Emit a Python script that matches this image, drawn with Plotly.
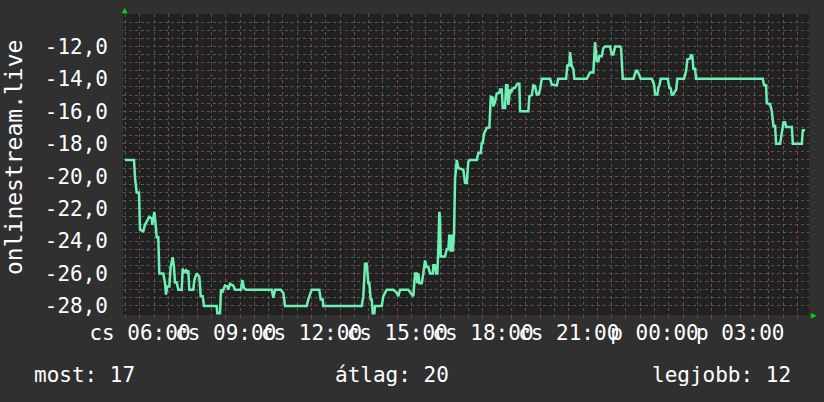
import plotly.graph_objects as go

# Time in hours since Thursday 00:00 (values > 24 are Friday)
hours = [5.476, 5.791, 5.826, 5.885, 5.966, 6.001, 6.116, 6.176, 6.326, 6.410, 6.431, 6.501, 6.550, 6.585, 6.641,
         6.676, 6.816, 6.876, 6.910, 6.956, 7.026, 7.075, 7.145, 7.190, 7.225, 7.285, 7.341, 7.460, 7.495, 7.540,
         7.610, 7.656, 7.691, 7.726, 7.866, 7.901, 7.985, 8.076, 8.125, 8.195, 8.240, 8.684, 8.705, 8.800, 8.835,
         8.894, 8.975, 9.055, 9.090, 9.150, 9.265, 9.325, 9.535, 9.580, 9.640, 9.710, 10.609, 10.665, 10.724, 10.924,
         11.015, 11.074, 11.833, 11.890, 12.008, 12.274, 12.323, 12.393, 12.414, 13.758, 13.814, 13.874, 13.933, 13.989, 14.024,
         14.073, 14.108, 14.143, 14.199, 14.223, 14.458, 14.514, 14.633, 14.864, 14.983, 15.039, 15.098, 15.388, 15.507, 15.563,
         15.623, 15.682, 15.703, 15.738, 15.773, 15.857, 15.913, 15.973, 16.032, 16.088, 16.148, 16.242, 16.263, 16.322, 16.357,
         16.403, 16.438, 16.473, 16.497, 16.522, 16.673, 16.732, 16.788, 16.823, 16.872, 16.907, 16.942, 16.988, 17.023, 17.082,
         17.138, 17.257, 17.313, 17.373, 17.432, 17.488, 17.548, 17.782, 17.838, 17.922, 17.957, 17.992, 18.038, 18.132, 18.223,
         18.273, 18.342, 18.363, 18.423, 18.482, 18.573, 18.597, 18.657, 18.692, 18.772, 18.807, 18.853, 18.888, 18.948, 19.007,
         19.042, 19.123, 19.203, 19.273, 19.297, 19.588, 19.623, 19.707, 19.763, 19.822, 19.882, 19.938, 19.997, 20.057, 20.347,
         20.407, 20.581, 20.637, 20.907, 20.952, 21.022, 21.046, 21.106, 21.162, 21.197, 21.631, 21.746, 21.862, 21.921, 21.981,
         22.037, 22.072, 22.155, 22.211, 22.271, 22.446, 22.505, 22.561, 22.621, 22.796, 22.831, 22.890, 23.261, 23.355, 23.401,
         23.471, 23.520, 23.905, 23.940, 23.986, 24.021, 24.101, 24.136, 24.171, 24.220, 24.465, 24.521, 24.570, 24.605, 24.661,
         24.721, 24.756, 24.801, 25.036, 25.106, 25.151, 25.246, 25.281, 25.326, 25.361, 25.421, 25.455, 27.789, 27.835, 27.905,
         27.929, 28.045, 28.105, 28.161, 28.220, 28.255, 28.395, 28.455, 28.511, 28.570, 28.605, 28.805, 28.840, 29.155, 29.190,
         29.270]

values = [-19.0, -19.0, -20.1, -21.0, -21.0, -23.3, -23.4, -23.0, -22.5, -22.6, -23.0, -22.2, -23.0, -23.76, -23.76,
          -26.0, -26.0, -26.6, -27.3, -26.8, -26.8, -25.57, -25.0, -25.6, -26.56, -26.56, -27.0, -27.0, -25.7, -25.9,
          -25.8, -26.0, -25.8, -27.0, -27.0, -26.4, -26.0, -26.2, -27.4, -27.4, -28.0, -28.0, -28.45, -28.45, -27.0,
          -27.1, -26.75, -26.8, -27.0, -26.64, -26.75, -27.0, -27.0, -26.4, -26.9, -27.0, -27.0, -27.5, -27.0, -27.0,
          -27.2, -28.0, -28.0, -27.6, -27.0, -27.0, -27.6, -27.6, -28.0, -28.0, -27.4, -25.4, -25.4, -26.6, -26.6,
          -27.6, -27.6, -28.45, -28.45, -28.0, -28.0, -27.4, -27.0, -27.0, -27.2, -27.4, -27.0, -27.0, -27.3, -27.4,
          -26.0, -26.0, -26.6, -26.0, -26.6, -26.6, -26.0, -25.2, -25.6, -25.6, -26.0, -26.0, -25.5, -25.5, -26.0,
          -26.0, -24.5, -22.2, -22.6, -24.95, -24.95, -24.5, -24.5, -23.6, -24.65, -23.6, -24.65, -23.55, -20.2, -19.0,
          -19.5, -19.6, -19.6, -20.4, -20.4, -19.1, -19.0, -19.0, -18.57, -18.57, -17.95, -17.95, -17.38, -17.02, -17.0,
          -15.1, -15.15, -15.7, -15.4, -14.9, -14.85, -14.66, -14.66, -15.8, -15.8, -14.4, -14.4, -15.6, -14.66, -14.75,
          -14.6, -14.55, -14.3, -14.3, -16.0, -16.0, -15.07, -15.0, -14.4, -14.45, -14.97, -14.97, -14.66, -14.0, -14.0,
          -14.35, -14.4, -14.0, -14.0, -13.18, -13.18, -12.35, -13.2, -13.4, -14.0, -14.0, -13.6, -13.6, -11.74, -12.9,
          -12.9, -12.6, -12.6, -12.1, -12.0, -12.0, -12.5, -12.5, -12.0, -12.0, -12.1, -14.0, -14.0, -13.5, -13.5,
          -13.8, -14.0, -14.0, -14.2, -14.35, -14.97, -14.97, -14.55, -14.4, -14.0, -14.0, -14.55, -14.6, -14.97, -14.97,
          -14.75, -14.7, -14.0, -14.0, -13.5, -12.8, -12.75, -12.5, -12.6, -13.38, -13.38, -14.0, -14.0, -14.4, -14.4,
          -15.5, -15.55, -16.0, -16.9, -16.9, -18.0, -18.0, -17.33, -16.68, -16.68, -16.96, -16.96, -18.0, -18.0, -17.17,
          -17.17]

# Axis ticks (hourly grid, labels every 3 hours)
x_tick_hours = list(range(6, 30))
x_tick_labels = ["cs 06:00" if h == 6 else "cs 09:00" if h == 9 else "cs 12:00" if h == 12 else
                 "cs 15:00" if h == 15 else "cs 18:00" if h == 18 else "cs 21:00" if h == 21 else
                 "p 00:00" if h == 24 else "p 03:00" if h == 27 else "" for h in x_tick_hours]
y_tick_values = [-28, -26, -24, -22, -20, -18, -16, -14, -12]
y_tick_labels = ["-28,0", "-26,0", "-24,0", "-22,0", "-20,0", "-18,0", "-16,0", "-14,0", "-12,0"]

series_name = "onlinestream.live"
legend_items = ["most: 17", "átlag: 20", "legjobb: 12"]

x_range = [5.406, 29.406]
y_range = [-28.56, -10.0]

FONT = "DejaVu Sans Mono"
RED_GRID = "rgba(150,60,60,0.55)"
GREY_GRID = "rgba(110,110,110,0.7)"

fig = go.Figure()
fig.add_trace(go.Scatter(x=hours, y=values, mode="lines",
                         line=dict(color="#6ef0b4", width=2.5), hoverinfo="skip"))

W, H = 824, 402
L, R, T, B = 123, 15, 14, 87
pw, ph = W - L - R, H - T - B

fig.update_layout(
    width=W, height=H,
    margin=dict(l=L, r=R, t=T, b=B, autoexpand=False),
    paper_bgcolor="#303030",
    plot_bgcolor="#212121",
    showlegend=False,
    font=dict(family=FONT, color="white", size=21),
    xaxis=dict(range=x_range, tickmode="array", tickvals=x_tick_hours, ticktext=x_tick_labels,
               tickangle=0, automargin=False,
               showgrid=True, gridcolor=RED_GRID, griddash="dot", gridwidth=1,
               ticks="outside", ticklen=4, tickcolor=RED_GRID,
               minor=dict(dtick=0.5, tick0=0, showgrid=True, gridcolor=GREY_GRID, griddash="dot",
                          ticks="outside", ticklen=2, tickcolor=GREY_GRID),
               zeroline=False, showline=False, fixedrange=True,
               tickfont=dict(family=FONT, size=21, color="white"), ticklabelstandoff=-5),
    yaxis=dict(range=y_range, tickmode="array", tickvals=y_tick_values, ticktext=y_tick_labels,
               automargin=False,
               showgrid=True, gridcolor=RED_GRID, griddash="dot", gridwidth=1,
               ticks="", minor=dict(dtick=0.5, tick0=0, showgrid=True, gridcolor=GREY_GRID, griddash="dot"),
               zeroline=False, showline=False, fixedrange=True,
               tickfont=dict(family=FONT, size=21, color="white"), ticklabelstandoff=14),
)

def px_x(p):
    return (p - L) / pw

def px_y(p):
    return (H - B - p) / ph

ann = [
    dict(text=series_name, x=px_x(14), y=px_y(158), textangle=-90, font=dict(family=FONT, size=23, color="white")),
    dict(text=legend_items[0], x=px_x(32), y=px_y(375), xanchor="left", font=dict(family=FONT, size=21, color="white")),
    dict(text=legend_items[1], x=px_x(333), y=px_y(375), xanchor="left", font=dict(family=FONT, size=21, color="white")),
    dict(text=legend_items[2], x=px_x(793), y=px_y(375), xanchor="right", font=dict(family=FONT, size=21, color="white")),
    dict(text="▲", x=px_x(125), y=px_y(10), font=dict(size=9, color="#00dd00")),
    dict(text="▶", x=px_x(814), y=px_y(315), font=dict(size=9, color="#00dd00")),
]
for a in ann:
    a.update(xref="paper", yref="paper", showarrow=False)
    a.setdefault("xanchor", "center")
    a.setdefault("yanchor", "middle")
fig.update_layout(annotations=ann)

fig.write_html("out.html", config={"displayModeBar": False},
               post_script="document.body.style.margin='0';document.body.style.background='#303030';")
